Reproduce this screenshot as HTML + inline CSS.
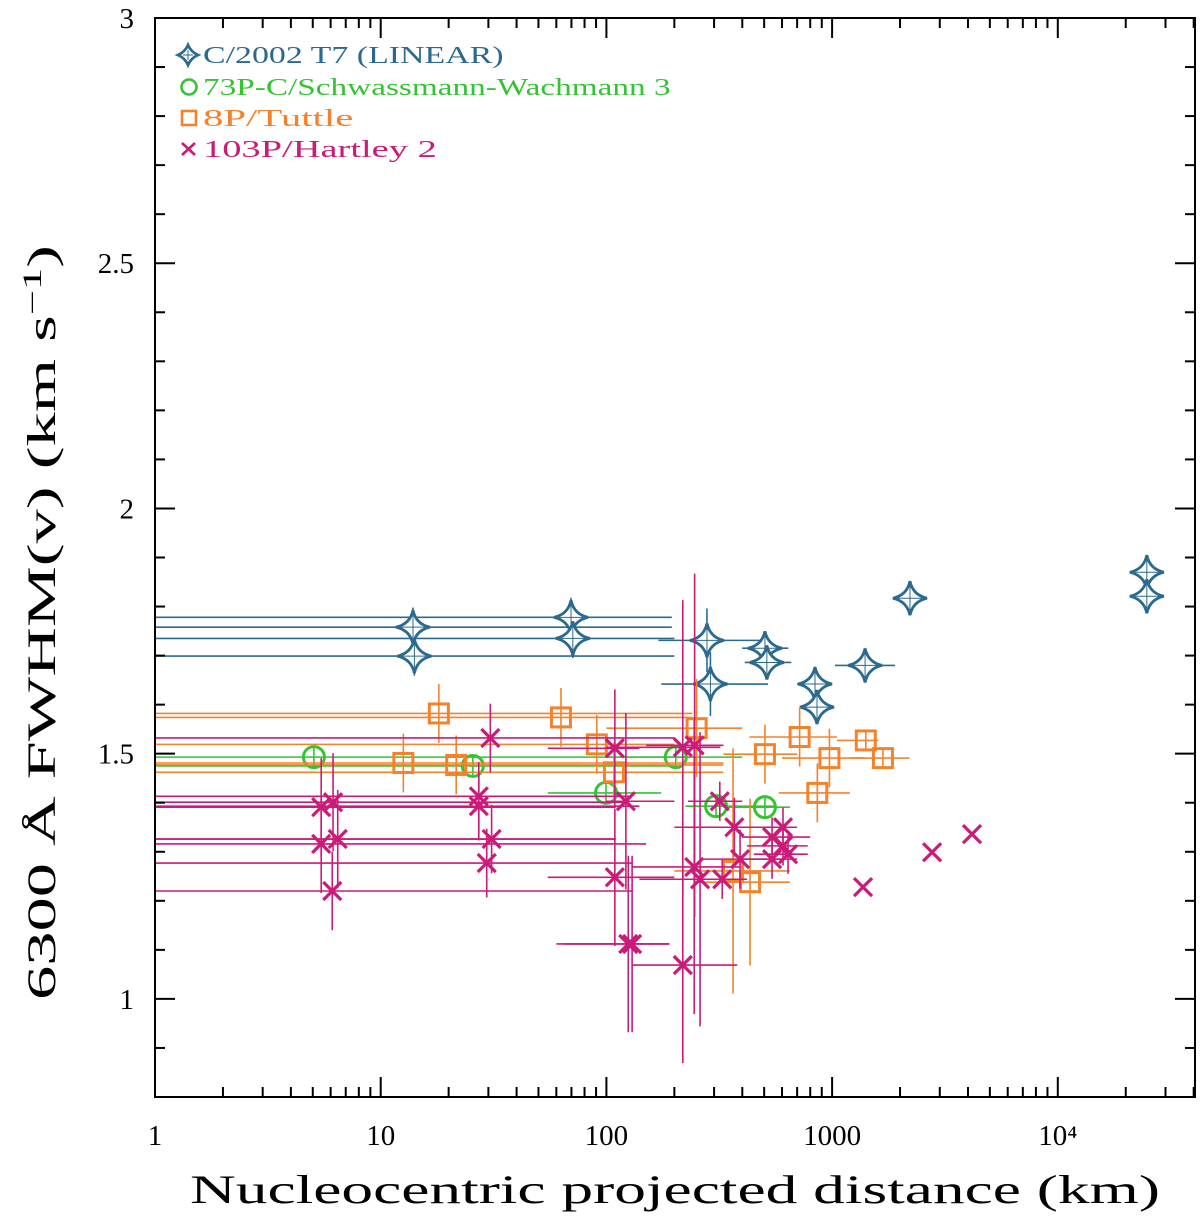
<!DOCTYPE html>
<html><head><meta charset="utf-8"><style>
html,body{margin:0;padding:0;background:#fff;}
svg text{font-family:"Liberation Serif","DejaVu Serif",serif;}
</style></head><body>
<svg id="chart" width="1200" height="1215" viewBox="0 0 1200 1215" xmlns="http://www.w3.org/2000/svg"></svg>
<script>
// ---- data ----
const xTickValues = [1, 10, 100, 1000, 10000];
const xTickLabels = ["1", "10", "100", "1000", "10⁴"];
const yTickValues = [1, 1.5, 2, 2.5, 3];
const yTickLabels = ["1", "1.5", "2", "2.5", "3"];
const seriesNames = ["C/2002 T7 (LINEAR)", "73P-C/Schwassmann-Wachmann 3", "8P/Tuttle", "103P/Hartley 2"];

const t7X = [13.9,14.1,69.7,71,279,289,504,514,840,857,1400,2213,24800,24800];
const t7Y = [1.758,1.699,1.778,1.735,1.731,1.642,1.715,1.686,1.642,1.595,1.680,1.817,1.870,1.821];
const t7XLo = [0.1,0.1,0.1,0.1,170,175,400,410,700,null,1030,null,null,null];
const t7XHi = [195,200,195,200,500,520,640,660,null,null,1900,null,null,null];
const t7YErr = [0.04,0.04,0.04,0.04,0.065,0.065,0.02,0.02,0.03,0.03,0.01,0,0,0];

const swX = [5.06,25.6,99.6,203,306,504];
const swY = [1.493,1.475,1.420,1.493,1.393,1.391];
const swXLo = [0.1,0.1,55,100,224,330];
const swXHi = [250,200,175,400,560,650];
const swYErr = [0.02,0.02,0.02,0.02,0.02,0.02];

const tuX = [12.6,18.1,21.6,62.9,90.7,108,251,504,718,973,1410,1680,860,364,433];
const tuY = [1.481,1.582,1.477,1.574,1.519,1.462,1.552,1.499,1.534,1.491,1.527,1.491,1.420,1.261,1.238];
const tuXLo = [0.1,0.1,0.1,0.1,0.1,0.1,100,330,430,600,1050,1200,580,200,250];
const tuXHi = [330,240,330,240,200,330,400,700,1050,1400,1600,2200,1200,650,650];
const tuYErr = [0.06,0.06,0.06,0.06,0.06,0.06,0.1,0.06,0.06,0.06,0.02,0.02,0.06,0.25,0.17];

const haX = [5.45,6.15,5.45,6.45,6.1,30.6,27.2,27.2,31,29.5,109,109,122,125,130,218,246,218,245,260,318,326,369,391,606,542,606,638,542,1371,2773,4167];
const haY = [1.391,1.401,1.316,1.326,1.220,1.532,1.413,1.393,1.326,1.277,1.511,1.248,1.403,1.112,1.112,1.513,1.517,1.069,1.269,1.244,1.403,1.244,1.350,1.285,1.350,1.330,1.312,1.295,1.285,1.228,1.299,1.336];
const haXLo = [0.1,0.1,0.1,0.1,0.1,0.1,0.1,0.1,0.1,0.1,55,55,100,60,65,100,150,130,130,140,230,200,200,260,420,400,420,450,380,null,null,null];
const haXHi = [110,120,150,110,130,200,130,140,110,130,140,200,200,190,190,320,330,380,390,400,400,420,500,600,700,800,780,780,700,null,null,null];
const haYErr = [0.1,0.1,0.1,0.1,0.08,0.07,0.07,0.07,0.07,0.07,0.12,0.14,0.18,0.18,0.18,0.3,0.35,0.2,0.3,0.3,0.04,0.04,0.06,0.06,0.04,0.04,0.04,0.04,0.04,0,0,0];

// ---- layout ----
const L=155,R=1195,T=18,B=1097;
const XMIN=1, XMAX=Math.pow(10,(R-L)/225.7), YMIN=0.8, YMAX=3;
function sx(v){return L+(Math.log10(v)-Math.log10(XMIN))/(Math.log10(XMAX)-Math.log10(XMIN))*(R-L);}
function sy(v){return B-(v-YMIN)/(YMAX-YMIN)*(B-T);}
const NS="http://www.w3.org/2000/svg";
const svg=document.getElementById('chart');
function mk(tag,attrs,parent){const e=document.createElementNS(NS,tag);for(const k in attrs)e.setAttribute(k,attrs[k]);(parent||svg).appendChild(e);return e;}
function clampX(px){return Math.max(L,Math.min(R,px));}

const COLORS=["#2b6a8e","#33c433","#f5822b","#cc1a78"];

const defs=mk('defs',{});
const cp=mk('clipPath',{id:'plotclip'},defs);
mk('rect',{x:L,y:T,width:R-L,height:B-T},cp);

const plot=mk('g',{'clip-path':'url(#plotclip)'});



function drawErr(g,xs,ys,xl,xh,ye,color){
  for(let i=0;i<xs.length;i++){
    const cx=sx(xs[i]),cy=sy(ys[i]);
    if(xl[i]!=null||xh[i]!=null){
      const x1=xl[i]!=null?sx(xl[i]):cx, x2=xh[i]!=null?sx(xh[i]):cx;
      const l=mk('line',{x1:clampX(x1),x2:clampX(x2),y1:cy,y2:cy,stroke:color,'stroke-width':1.6},g);
      
      
    }
    if(ye[i]){
      const l=mk('line',{x1:cx,x2:cx,y1:sy(ys[i]+ye[i]),y2:sy(ys[i]-ye[i]),stroke:color,'stroke-width':1.6},g);
      
      
    }
  }
}
function star(g,cx,cy,s){
  const p=`M${cx},${cy-s} Q${cx+3},${cy-3} ${cx+s},${cy} Q${cx+3},${cy+3} ${cx},${cy+s} Q${cx-3},${cy+3} ${cx-s},${cy} Q${cx-3},${cy-3} ${cx},${cy-s}Z`;
  const e=mk('path',{d:p,fill:'#fff',stroke:COLORS[0],'stroke-width':2.8},g);
  mk('line',{x1:cx,x2:cx,y1:cy-s+5,y2:cy+s-5,stroke:COLORS[0],'stroke-width':1},g);
  mk('line',{x1:cx-s+5,x2:cx+s-5,y1:cy,y2:cy,stroke:COLORS[0],'stroke-width':1},g);
  return e;
}
function circ(g,cx,cy){return mk('circle',{cx:cx,cy:cy,r:10.5,fill:'none',stroke:COLORS[1],'stroke-width':3},g);}
function sq(g,cx,cy){return mk('rect',{x:cx-9.5,y:cy-9.5,width:19,height:19,fill:'none',stroke:COLORS[2],'stroke-width':3},g);}
function cross(g,cx,cy){const d=9;return mk('path',{d:`M${cx-d},${cy-d}L${cx+d},${cy+d}M${cx-d},${cy+d}L${cx+d},${cy-d}`,stroke:COLORS[3],'stroke-width':3.2,fill:'none'},g);}

const gT7=mk('g',{},plot);
const gSW=mk('g',{},plot);
const gTU=mk('g',{},plot);
const gHA=mk('g',{},plot);

drawErr(gT7,t7X,t7Y,t7XLo,t7XHi,t7YErr,COLORS[0]);
drawErr(gSW,swX,swY,swXLo,swXHi,swYErr,COLORS[1]);
drawErr(gTU,tuX,tuY,tuXLo,tuXHi,tuYErr,COLORS[2]);
drawErr(gHA,haX,haY,haXLo,haXHi,haYErr,COLORS[3]);
for(let i=0;i<t7X.length;i++){const e=star(gT7,sx(t7X[i]),sy(t7Y[i]),17);
  
  }
for(let i=0;i<swX.length;i++){const e=circ(gSW,sx(swX[i]),sy(swY[i]));
  
  }
for(let i=0;i<tuX.length;i++){const e=sq(gTU,sx(tuX[i]),sy(tuY[i]));
  
  }
for(let i=0;i<haX.length;i++){const e=cross(gHA,sx(haX[i]),sy(haY[i]));
  
  }

// ---- axes ----
const axes=mk('g',{});


const frame=mk('rect',{x:L,y:T,width:R-L,height:B-T,fill:'none',stroke:'#000','stroke-width':2},axes);


for(let d=0;d<=4;d++){for(let m=1;m<=9;m++){const v=m*Math.pow(10,d);if(v>XMAX)continue;const px=sx(v);const len=m==1?20:10;
  mk('line',{x1:px,x2:px,y1:B,y2:B-len,stroke:'#000','stroke-width':2},axes);
  mk('line',{x1:px,x2:px,y1:T,y2:T+len,stroke:'#000','stroke-width':2},axes);}}
for(let i=0;i<xTickValues.length;i++){const t=mk('text',{x:sx(xTickValues[i]),y:1145,'text-anchor':'middle','font-size':29},axes);t.textContent=xTickLabels[i];
  
  }
for(let k=8;k<=30;k++){const v=k/10;const px=sy(v);const len=(k%5==0)?20:10;
  mk('line',{x1:L,x2:L+len,y1:px,y2:px,stroke:'#000','stroke-width':2},axes);
  mk('line',{x1:R,x2:R-len,y1:px,y2:px,stroke:'#000','stroke-width':2},axes);}
for(let i=0;i<yTickValues.length;i++){const t=mk('text',{x:134,y:sy(yTickValues[i])+10,'text-anchor':'end','font-size':29},axes);t.textContent=yTickLabels[i];
  
  }
const xt=mk('text',{x:190,y:1203,'font-size':40,textLength:970,lengthAdjust:'spacingAndGlyphs'},axes);
xt.textContent='Nucleocentric projected distance (km)';


const yt=mk('text',{x:0,y:0,'font-size':40,transform:'translate(55,1000) rotate(-90)',textLength:755,lengthAdjust:'spacingAndGlyphs'},axes);
yt.innerHTML='6300 Å FWHM(v) (km s<tspan dy="-14" font-size="26">−1</tspan><tspan dy="14">)</tspan>';



// ---- legend ----
const leg=mk('g',{});


const legY=[55,87,118,149];
for(let i=0;i<4;i++){const cy=legY[i];
  const lg=mk('g',{},leg);
  
  
  if(i==0)star(lg,188,cy,10);else if(i==1)mk('circle',{cx:189,cy:cy,r:7.5,fill:'none',stroke:COLORS[1],'stroke-width':2.6},lg);
  else if(i==2)mk('rect',{x:182,y:cy-7,width:14,height:14,fill:'none',stroke:COLORS[2],'stroke-width':2.6},lg);
  else mk('path',{d:`M182,${cy-6}L195,${cy+6}M182,${cy+6}L195,${cy-6}`,stroke:COLORS[3],'stroke-width':2.6},lg);
  const t=mk('text',{x:203,y:cy+8,'font-size':24,fill:COLORS[i],textLength:seriesNames[i].length*16.7,lengthAdjust:'spacingAndGlyphs'},lg);
  t.textContent=seriesNames[i];
  
  
}
</script>
</body></html>
